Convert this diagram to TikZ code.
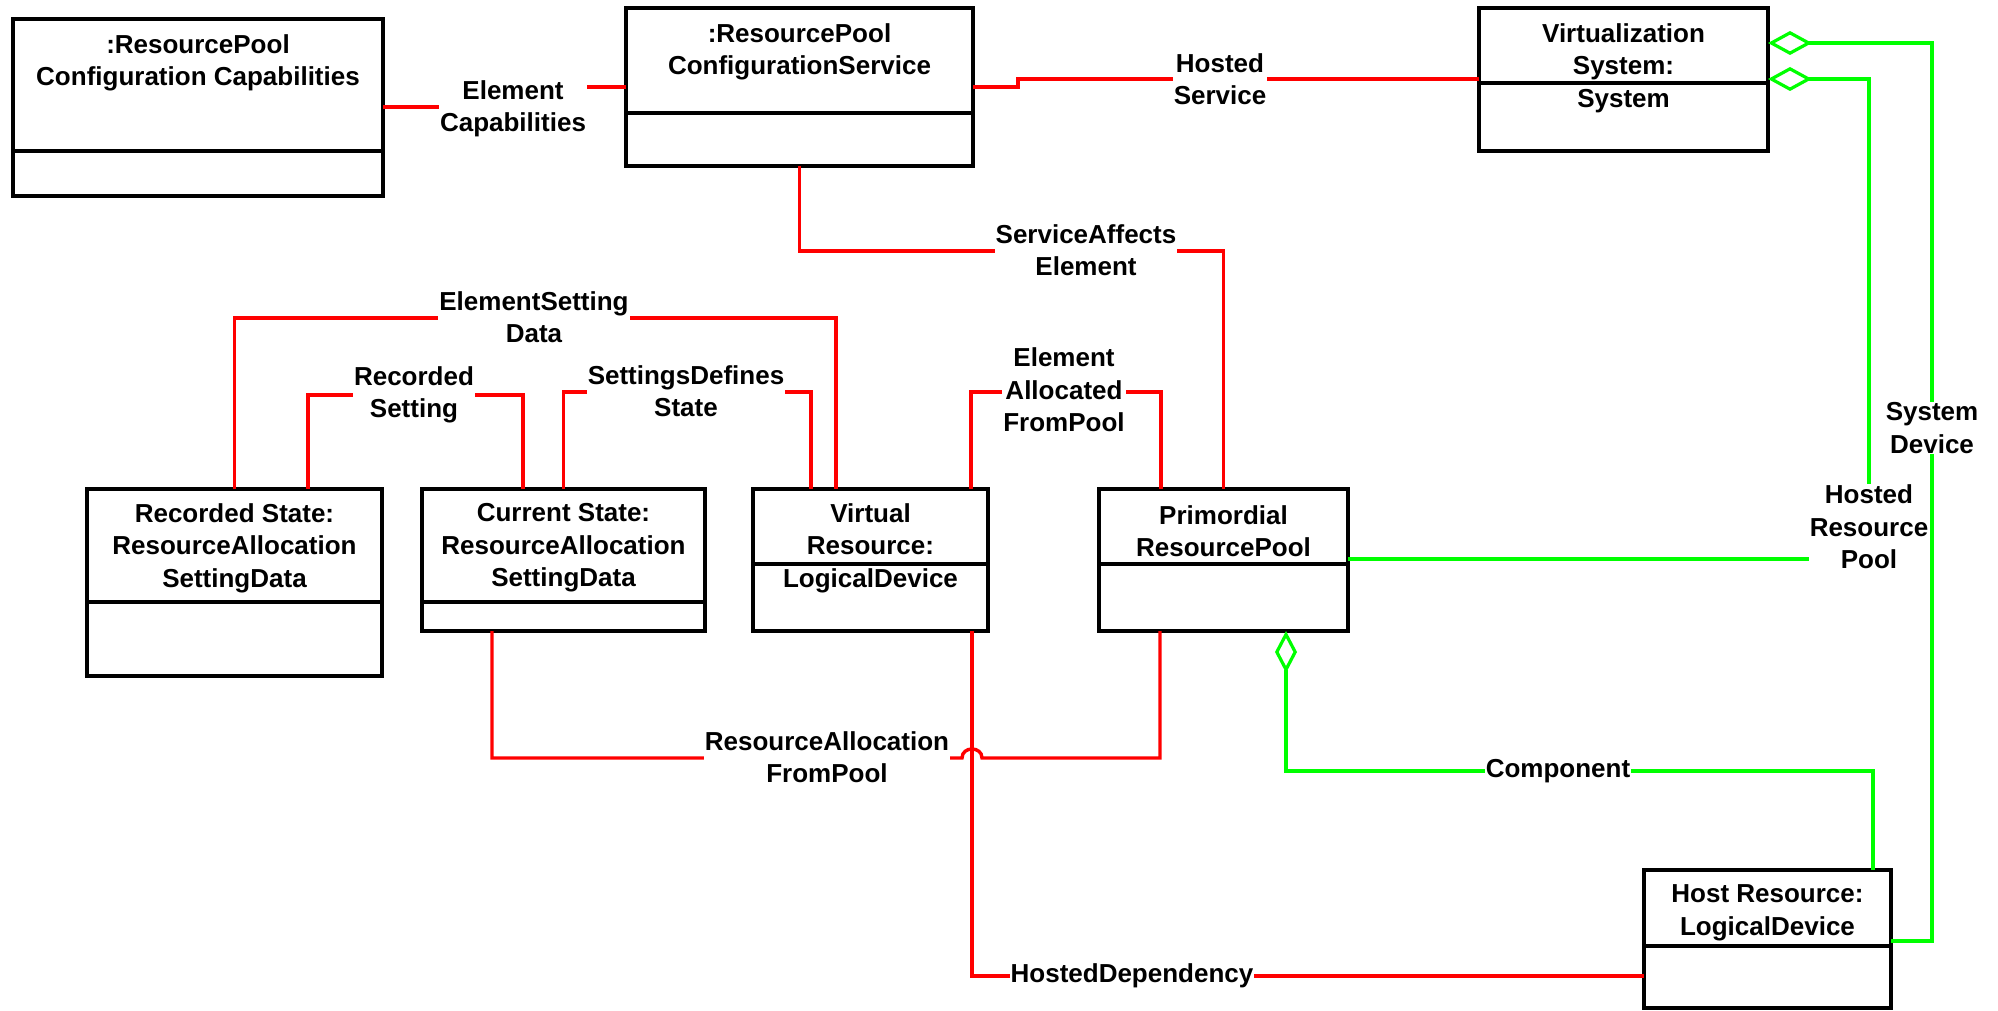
\documentclass[tikz,border=0pt]{standalone}
\usepackage{fontspec}
\setmainfont{Liberation Sans}
\usetikzlibrary{arrows.meta}
\definecolor{lgreen}{RGB}{0,255,0}
\begin{document}
\begin{tikzpicture}[x=1pt,y=-1pt,
  box/.style={draw, line width=3.8pt, inner sep=0pt, outer sep=0pt, anchor=north west},
  divline/.style={line width=3.8pt},
  boxtext/.style={align=center, font=\fontsize{26}{32.5}\selectfont\bfseries, inner sep=0pt},
  lbl/.style={align=center, font=\fontsize{26}{32.5}\selectfont\bfseries, fill=white, inner xsep=1pt, inner ysep=1pt},
  redline/.style={draw=red, line width=3.4pt},
  greenline/.style={draw=lgreen, line width=3.2pt},
  aggV/.style={{Diamond[open,length=44pt,width=24pt]}-},
  aggH/.style={{Diamond[open,length=42pt,width=22pt]}-}
]
\useasboundingbox (0,0) rectangle (1998,1011);

% boxes
\node[box, minimum width=370, minimum height=177] (rpcc) at (13,19) {};
\node[box, minimum width=347, minimum height=158] (rpcs) at (626,8) {};
\node[box, minimum width=289, minimum height=143] (vs) at (1479,8) {};
\node[box, minimum width=295, minimum height=187] (rec) at (87,489) {};
\node[box, minimum width=283, minimum height=142] (cur) at (422,489) {};
\node[box, minimum width=235, minimum height=142] (vr) at (753,489) {};
\node[box, minimum width=249, minimum height=142] (prim) at (1099,489) {};
\node[box, minimum width=247, minimum height=138] (host) at (1644,870) {};

% dividers
\draw[divline] (rpcc.west |- 0,151) -- (rpcc.east |- 0,151);
\draw[divline] (rpcs.west |- 0,113) -- (rpcs.east |- 0,113);
\draw[divline] (vs.west |- 0,83) -- (vs.east |- 0,83);
\draw[divline] (rec.west |- 0,602) -- (rec.east |- 0,602);
\draw[divline] (cur.west |- 0,602) -- (cur.east |- 0,602);
\draw[divline] (vr.west |- 0,564) -- (vr.east |- 0,564);
\draw[divline] (prim.west |- 0,564) -- (prim.east |- 0,564);
\draw[divline] (host.west |- 0,946) -- (host.east |- 0,946);

% box titles
\node[boxtext] (rpccT) at (198,63) {:ResourcePool\\Configuration Capabilities};
\node[boxtext] (rpcsT) at (799.5,52) {:ResourcePool\\ConfigurationService};
\node[boxtext] (vsT) at (1623.5,68) {Virtualization\\System:\\System};
\node[boxtext] (recT) at (234.5,548) {Recorded State:\\ResourceAllocation\\SettingData};
\node[boxtext] (curT) at (563.5,548) {Current State:\\ResourceAllocation\\SettingData};
\node[boxtext] (vrT) at (870.5,548) {Virtual\\Resource:\\LogicalDevice};
\node[boxtext] (primT) at (1223.5,531) {Primordial\\ResourcePool};
\node[boxtext] (hostT) at (1767.5,913) {Host Resource:\\LogicalDevice};

% red connectors
\draw[redline] (rpcc.east |- 0,107) -- (513,107) -- (513,87) -- (rpcs.west |- 0,87);
\draw[redline] (rpcs.east |- 0,87) -- (1018,87) -- (1018,79) -- (vs.west |- 0,79);
\draw[redline] (rpcs.south) -- (799.5,251) -- (1223.5,251) -- (prim.north);
\draw[redline] (rec.north) -- (234.5,318) -- (836,318) -- (vr.north -| 836,0);
\draw[redline] (rec.north -| 308,0) -- (308,395) -- (523,395) -- (cur.north -| 523,0);
\draw[redline] (cur.north) -- (563.5,392) -- (811,392) -- (vr.north -| 811,0);
\draw[redline] (vr.north -| 971,0) -- (971,392) -- (1161,392) -- (prim.north -| 1161,0);
\draw[redline] (cur.south -| 492,0) -- (492,758) -- (962,758) .. controls (962,746) and (982,746) .. (982,758) -- (1160,758) -- (prim.south -| 1160,0);
\draw[redline] (vr.south -| 972,0) -- (972,976) -- (host.west |- 0,976);

% green connectors
\draw[greenline, aggH] (prim.south -| 1286,0) -- (1286,771) -- (1873,771) -- (host.north -| 1873,0);
\draw[greenline, aggV] (vs.east |- 0,79) -- (1869,79) -- (1869,559) -- (prim.east |- 0,559);
\draw[greenline, aggV] (vs.east |- 0,43) -- (1932,43) -- (1932,941) -- (host.east |- 0,941);

% labels
\node[lbl] (lEC) at (513,109) {Element\\Capabilities};
\node[lbl] (lHS) at (1220,79) {Hosted\\Service};
\node[lbl] (lSAE) at (1086,250) {ServiceAffects\\Element};
\node[lbl] (lESD) at (534,317) {ElementSetting\\Data};
\node[lbl] (lRS) at (414,395) {Recorded\\Setting};
\node[lbl] (lSDS) at (686,391) {SettingsDefines\\State};
\node[lbl] (lEAFP) at (1064,390) {Element\\Allocated\\FromPool};
\node[lbl] (lRAFP) at (827,757) {ResourceAllocation\\FromPool};
\node[lbl] (lHD) at (1132,976) {HostedDependency};
\node[lbl] (lComp) at (1558,771) {Component};
\node[lbl] (lHRP) at (1869,527) {Hosted\\Resource\\Pool};
\node[lbl] (lSD) at (1932,428) {System\\Device};
\end{tikzpicture}
\end{document}
